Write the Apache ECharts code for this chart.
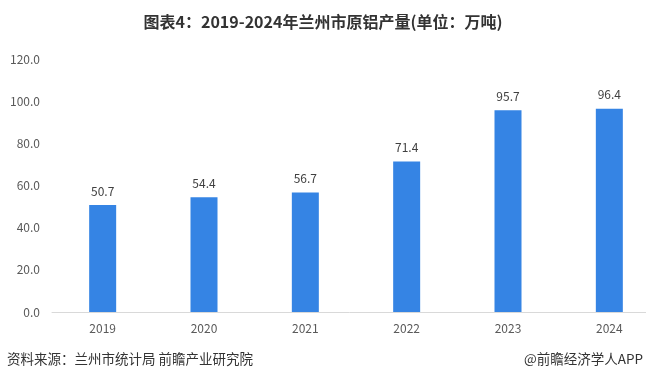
<!DOCTYPE html>
<html>
<head>
<meta charset="utf-8">
<script src="https://cdn.jsdelivr.net/npm/echarts@6/dist/echarts.min.js"></script>
<style>
html,body{margin:0;padding:0;background:#fff;}
#c{width:646px;height:382px;}
</style>
</head>
<body>
<div id="c"></div>
<script>
var categories = ['2019','2020','2021','2022','2023','2024'];
var values = [50.7, 54.4, 56.7, 71.4, 95.7, 96.4];
var yTicks = [0, 20, 40, 60, 80, 100, 120];
var titleText = '图表4：2019-2024年兰州市原铝产量(单位：万吨)';
var sourceText = '资料来源：兰州市统计局 前瞻产业研究院';
var brandText = '@前瞻经济学人APP';

var chart = echarts.init(document.getElementById('c'), null, {renderer:'canvas'});
var font = '"Microsoft YaHei","Noto Sans CJK SC",sans-serif';
chart.setOption({
  animation:false,
  backgroundColor:'#ffffff',
  title:{
    text:titleText, left:'center', top:9,
    textStyle:{fontSize:16, fontWeight:'bold', color:'#333', fontFamily:font}
  },
  graphic:[
    {type:'text', left:7, top:352, style:{text:sourceText, fontSize:13.5, fill:'#333', fontFamily:font}},
    {type:'text', right:3, top:352, style:{text:brandText, fontSize:13.5, fill:'#333', fontFamily:font}}
  ],
  grid:{left:52, right:-14, top:59, bottom:70, containLabel:false, outerBoundsMode:'none'},
  xAxis:{
    type:'category', data:categories,
    axisLine:{lineStyle:{color:'#d9d9d9', width:1}},
    axisTick:{show:false},
    axisLabel:{color:'#595959', fontSize:12, margin:10, fontFamily:font}
  },
  yAxis:{
    type:'value', min:yTicks[0], max:yTicks[yTicks.length-1], interval:20,
    axisLine:{show:false}, axisTick:{show:false},
    splitLine:{show:false},
    axisLabel:{color:'#595959', fontSize:12, margin:12, fontFamily:font,
      formatter:function(v){return v.toFixed(1);}}
  },
  series:[{
    type:'bar', data:values, barWidth:27,
    itemStyle:{color:'#3584e4'},
    label:{show:true, position:'top', distance:8, color:'#404040', fontSize:12, fontFamily:font,
      formatter:function(p){return p.value.toFixed(1);}}
  }]
});
</script>
</body>
</html>
